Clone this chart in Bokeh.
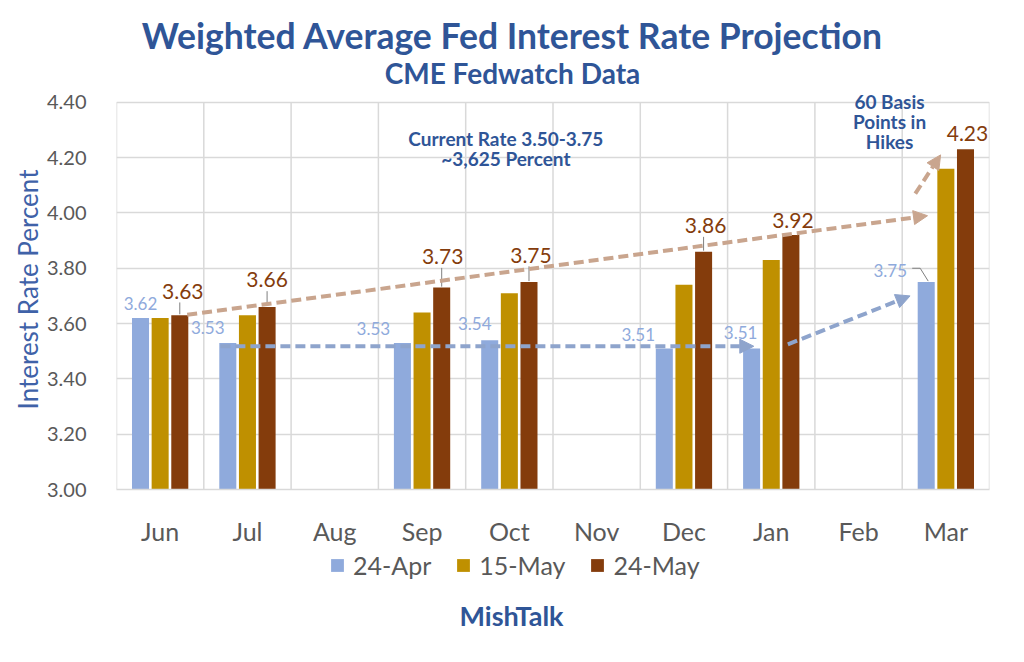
from bokeh.plotting import figure
from bokeh.layouts import column
from bokeh.models import (FactorRange, ColumnDataSource, Arrow, NormalHead,
                          Label, LabelSet, Legend, LegendItem, FixedTicker,
                          CustomJSTickFormatter)
from bokeh.transform import dodge
from bokeh.embed import file_html
from bokeh.resources import INLINE
from bokeh.core.properties import value

# ---------------- data ----------------
months = ["Jun", "Jul", "Aug", "Sep", "Oct", "Nov", "Dec", "Jan", "Feb", "Mar"]
series_names = ["24-Apr", "15-May", "24-May"]
apr24 = [3.62, 3.53, None, 3.53, 3.54, None, 3.51, 3.51, None, 3.75]
may15 = [3.62, 3.63, None, 3.64, 3.71, None, 3.74, 3.83, None, 4.16]
may24 = [3.63, 3.66, None, 3.73, 3.75, None, 3.86, 3.92, None, 4.23]
y_ticks = [3.00, 3.20, 3.40, 3.60, 3.80, 4.00, 4.20, 4.40]
title_text = "Weighted Average Fed Interest Rate Projection"
subtitle_text = "CME Fedwatch Data"
source_text = "MishTalk"
note_rate = ["Current Rate 3.50-3.75", "~3,625 Percent"]
note_hikes = ["60 Basis", "Points in", "Hikes"]

# ---------------- styles ----------------
C_APR = "#8FAADC"
C_MAY15 = "#BF9000"
C_MAY24 = "#843C0C"
C_TITLE = "#2F5597"
C_TXT = "#595959"
C_GRID = "#D9D9D9"
FONT = "Lato"
W = 1024
FRAME_W = 873
BL = 116
BR = W - BL - FRAME_W
BAR_W = 0.195
OFF = 0.225
TOP_H, MAIN_H, BOT_H = 89, 459, 110
Y0, YTOP = 3.0, 4.4
PX = 280.0                      # pixels per y unit (0.20 per 56 px)
FRAME_H = MAIN_H - 54
Y1 = Y0 + FRAME_H / PX
PXX = FRAME_W / len(months)

# label offsets (screen px) -- layout only
apr_dx = [0, -20, 0, -29, -15, 0, -26, -11, 0, -36]
apr_dy = [15, 15, 0, 14, 17, 0, 14, 16, 0, 12]
m24_dx = [3, 0, 0, 1, 2, 0, 2, 2, 0, 2]
m24_dy = [24, 27, 0, 31, 27, 0, 26, 15, 0, 16]

idx = [i for i, v in enumerate(apr24) if v is not None]
src = ColumnDataSource(dict(
    month=[months[i] for i in idx],
    apr=[apr24[i] for i in idx],
    m15=[may15[i] for i in idx],
    m24=[may24[i] for i in idx],
    apr_lbl=["%.2f" % apr24[i] for i in idx],
    m24_lbl=["%.2f" % may24[i] for i in idx],
    apr_dx=[apr_dx[i] for i in idx],
    apr_dy=[apr_dy[i] for i in idx],
    m24_dx=[m24_dx[i] for i in idx],
    m24_dy=[m24_dy[i] for i in idx],
))


def text_strip(h):
    f = figure(width=W, height=h, x_range=(0, FRAME_W), y_range=(0, h),
               output_backend="svg", toolbar_location=None, title_location=None,
               x_axis_type=None, y_axis_type=None,
               min_border_left=BL, min_border_right=BR, min_border_top=0,
               min_border_bottom=0)
    f.outline_line_color = None
    f.grid.visible = False
    return f


def py(page_y):
    """page pixel row -> value on the main y scale (for annotations)"""
    return Y0 + (TOP_H + FRAME_H - page_y) / PX


# ================= top (titles) =================
pt = text_strip(TOP_H)
pt.add_layout(Label(x=396, y=TOP_H - 34.5, text=title_text, text_align="center",
                    text_baseline="middle", text_font=FONT, text_font_style="bold",
                    text_font_size="35.5px", text_color=C_TITLE))
pt.add_layout(Label(x=396, y=TOP_H - 72, text=subtitle_text, text_align="center",
                    text_baseline="middle", text_font=FONT, text_font_style="bold",
                    text_font_size="28px", text_color=C_TITLE))

# ================= main chart =================
p = figure(width=W, height=MAIN_H, x_range=FactorRange(*months, range_padding=0),
           y_range=(Y0, Y1), output_backend="svg", toolbar_location=None,
           title_location=None,
           min_border_left=BL, min_border_right=BR, min_border_top=0,
           min_border_bottom=MAIN_H - FRAME_H)
p.background_fill_color = "white"
p.border_fill_color = "white"
p.outline_line_color = None

# grid
p.xgrid.grid_line_color = None
p.ygrid.grid_line_color = C_GRID
p.ygrid.grid_line_width = 1.5
p.ygrid.ticker = FixedTicker(ticks=y_ticks)
bounds = list(range(len(months) + 1))
p.segment(x0=bounds, y0=[Y0] * len(bounds), x1=bounds, y1=[YTOP] * len(bounds),
          line_color=C_GRID, line_width=1.5)

# axes
p.yaxis.ticker = FixedTicker(ticks=y_ticks)
p.yaxis.formatter = CustomJSTickFormatter(code="return tick.toFixed(2);")
p.yaxis.axis_line_color = None
p.yaxis.major_tick_line_color = None
p.yaxis.minor_tick_line_color = None
p.yaxis.major_label_text_font = FONT
p.yaxis.major_label_text_font_size = "20px"
p.yaxis.major_label_text_color = C_TXT
p.yaxis.major_label_standoff = 24
p.yaxis.axis_label = "Interest Rate Percent"
p.yaxis.axis_label_text_font = FONT
p.yaxis.axis_label_text_font_style = "normal"
p.yaxis.axis_label_text_font_size = "26px"
p.yaxis.axis_label_text_color = "#3F62A8"
p.yaxis.axis_label_standoff = 0

p.xaxis.axis_line_color = C_GRID
p.xaxis.axis_line_width = 1.5
p.xaxis.major_tick_line_color = None
p.xaxis.minor_tick_line_color = None
p.xaxis.major_label_text_font = FONT
p.xaxis.major_label_text_font_size = "25px"
p.xaxis.major_label_text_color = C_TXT
p.xaxis.major_label_standoff = 20

# bars
p.vbar(x=dodge("month", -OFF, range=p.x_range), top="apr", bottom=Y0, width=BAR_W,
       source=src, fill_color=C_APR, line_color=None)
p.vbar(x=dodge("month", 0.0, range=p.x_range), top="m15", bottom=Y0, width=BAR_W,
       source=src, fill_color=C_MAY15, line_color=None)
p.vbar(x=dodge("month", OFF, range=p.x_range), top="m24", bottom=Y0, width=BAR_W,
       source=src, fill_color=C_MAY24, line_color=None)

# leader lines for 24-May labels that float high
lead_x, lead_y0, lead_y1 = [], [], []
for i in idx:
    if m24_dy[i] >= 20:
        lead_x.append(i + 0.5 + OFF)
        lead_y0.append(may24[i] + 1 / PX)
        lead_y1.append(may24[i] + (m24_dy[i] - 11) / PX)
p.segment(x0=lead_x, y0=lead_y0, x1=lead_x, y1=lead_y1, line_color="#7F7F7F", line_width=1)
mi = months.index("Mar")
bx = mi + 0.5 - OFF
p.line(x=[bx - 14 / PXX, bx - 6 / PXX, bx + 2 / PXX],
       y=[apr24[mi] + 14 / PX, apr24[mi] + 14 / PX, apr24[mi] + 1 / PX],
       line_color="#7F7F7F", line_width=1)

# data labels
p.add_layout(LabelSet(x=dodge("month", -OFF, range=p.x_range), y="apr", text="apr_lbl",
                      x_offset="apr_dx", y_offset="apr_dy", source=src,
                      text_align="center", text_baseline="middle",
                      text_font=value(FONT), text_font_size="17px", text_color=C_APR))
p.add_layout(LabelSet(x=dodge("month", OFF, range=p.x_range), y="m24", text="m24_lbl",
                      x_offset="m24_dx", y_offset="m24_dy", source=src,
                      text_align="center", text_baseline="middle",
                      text_font=value(FONT), text_font_size="21px", text_color=C_MAY24))

# arrows (annotation, in synthetic category coordinates)
C_ARR_BROWN = "#C9A58E"
C_ARR_BLUE = "#8EA4CC"
arrows = [
    (0.81, 3.632, 9.29, 3.99, C_ARR_BROWN),
    (9.15, 4.07, 9.44, 4.21, C_ARR_BROWN),
    (1.19, 3.518, 7.30, 3.518, C_ARR_BLUE),
    (7.69, 3.525, 9.09, 3.70, C_ARR_BLUE),
]
for xs, ys, xe, ye, c in arrows:
    p.add_layout(Arrow(x_start=xs, y_start=ys, x_end=xe, y_end=ye,
                       line_color=c, line_width=4, line_dash="10 5",
                       end=NormalHead(size=14, fill_color=c, line_color=c)))

# text annotations inside plot
for txt, (x, yy) in zip(note_rate, [(4.46, 139), (4.46, 159)]):
    p.add_layout(Label(x=x, y=py(yy), text=txt, text_align="center", text_baseline="middle",
                       text_font=FONT, text_font_style="bold", text_font_size="19px",
                       text_color=C_TITLE))
for txt, (x, yy) in zip(note_hikes, [(8.855, 101), (8.855, 121.5), (8.855, 142)]):
    p.add_layout(Label(x=x, y=py(yy), text=txt, text_align="center", text_baseline="middle",
                       text_font=FONT, text_font_style="bold", text_font_size="19px",
                       text_color=C_TITLE))

# ================= bottom (legend + source) =================
pb = text_strip(BOT_H)
lr = [pb.vbar(x=[-500], top=[-500], bottom=[-600], width=1, fill_color=c, line_color=None)
      for c in (C_APR, C_MAY15, C_MAY24)]
legend = Legend(items=[LegendItem(label=n, renderers=[r]) for n, r in zip(series_names, lr)],
                orientation="horizontal", location=(213, BOT_H - 32),
                label_text_font=FONT, label_text_font_size="25px",
                label_text_color=C_TXT, border_line_color=None,
                background_fill_alpha=0, glyph_width=16, glyph_height=16,
                spacing=24, label_standoff=8, padding=4, margin=0)
pb.add_layout(legend)
pb.add_layout(Label(x=395, y=BOT_H - 67, text=source_text, text_align="center",
                    text_baseline="middle", text_font=FONT, text_font_style="bold",
                    text_font_size="27px", text_color=C_TITLE))

layout = column(pt, p, pb, spacing=0)
open("out.html", "w").write(file_html(layout, INLINE))
